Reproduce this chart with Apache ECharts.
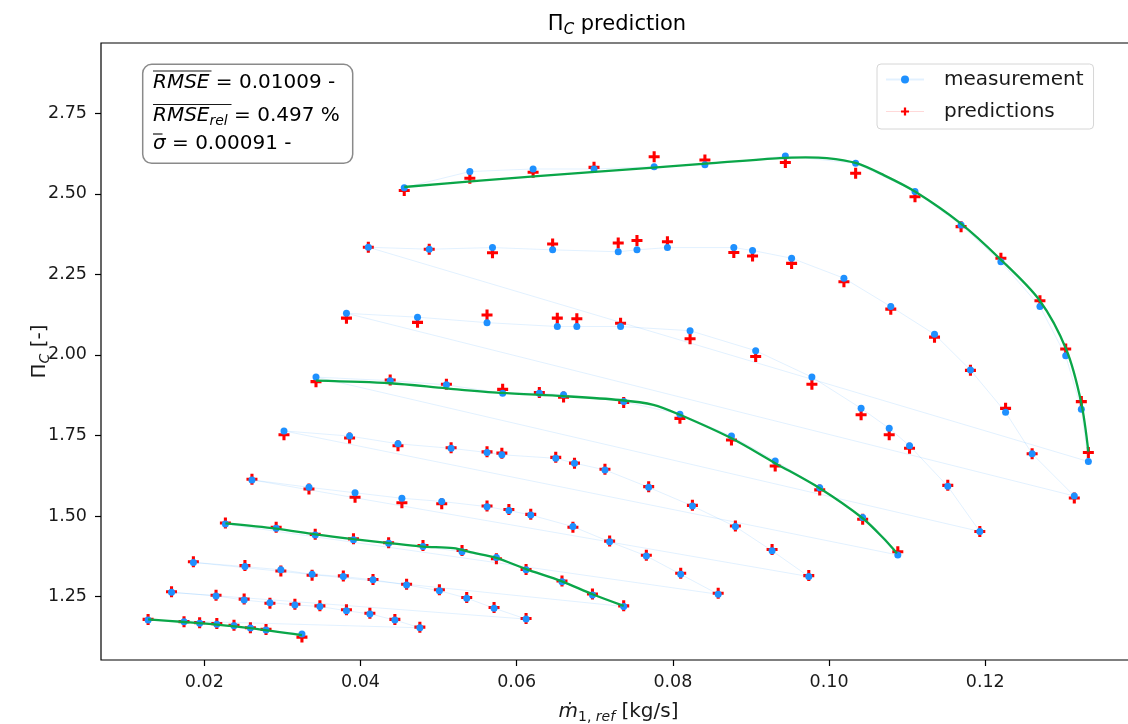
<!DOCTYPE html>
<html><head><meta charset="utf-8">
<script src="https://cdn.jsdelivr.net/npm/echarts@6/dist/echarts.min.js"></script>
<style>html,body{margin:0;padding:0;background:#fff;overflow:hidden}#c{width:1128px;height:724px}</style>
</head><body><div id="c"></div>
<script>
// ---- tick labels ----
const xTicks = [0.02, 0.04, 0.06, 0.08, 0.10, 0.12];
const yTicks = [1.25, 1.50, 1.75, 2.00, 2.25, 2.50, 2.75];

// ---- speed lines: mass flow, measurement, prediction ----
const l1x = [0.0456, 0.0540, 0.0621, 0.0699, 0.0776, 0.0841, 0.0944, 0.1034, 0.1110, 0.1169, 0.1220, 0.1270, 0.1303, 0.1323, 0.1332];
const l1m = [2.519, 2.569, 2.577, 2.577, 2.584, 2.590, 2.617, 2.595, 2.507, 2.403, 2.289, 2.150, 1.997, 1.831, 1.669];
const l1p = [2.510, 2.548, 2.567, 2.582, 2.615, 2.605, 2.597, 2.564, 2.491, 2.398, 2.300, 2.168, 2.018, 1.855, 1.697];

const l2x = [0.0410, 0.0488, 0.0569, 0.0646, 0.0730, 0.0754, 0.0793, 0.0878, 0.0902, 0.0952, 0.1019, 0.1079, 0.1135, 0.1181, 0.1226, 0.1260, 0.1314];
const l2m = [2.334, 2.328, 2.333, 2.326, 2.320, 2.326, 2.333, 2.333, 2.324, 2.300, 2.238, 2.150, 2.064, 1.953, 1.822, 1.693, 1.562];
const l2p = [2.334, 2.328, 2.317, 2.344, 2.347, 2.355, 2.351, 2.318, 2.307, 2.284, 2.227, 2.142, 2.055, 1.952, 1.834, 1.693, 1.556];

const l3x = [0.0382, 0.0473, 0.0562, 0.0652, 0.0677, 0.0733, 0.0822, 0.0906, 0.0978, 0.1041, 0.1077, 0.1103, 0.1152, 0.1193];
const l3m = [2.129, 2.117, 2.100, 2.088, 2.088, 2.088, 2.075, 2.013, 1.931, 1.834, 1.772, 1.718, 1.592, 1.452];
const l3p = [2.114, 2.101, 2.124, 2.114, 2.112, 2.098, 2.050, 1.995, 1.909, 1.814, 1.752, 1.710, 1.595, 1.452];

const l4x = [0.0343, 0.0438, 0.0510, 0.0582, 0.0629, 0.0660, 0.0737, 0.0809, 0.0875, 0.0931, 0.0988, 0.1043, 0.1088];
const l4m = [1.931, 1.920, 1.907, 1.881, 1.881, 1.876, 1.855, 1.816, 1.748, 1.671, 1.588, 1.495, 1.379];
const l4p = [1.917, 1.922, 1.909, 1.893, 1.883, 1.869, 1.852, 1.803, 1.736, 1.655, 1.581, 1.490, 1.389];

const l5x = [0.0302, 0.0386, 0.0448, 0.0516, 0.0562, 0.0581, 0.0650, 0.0674, 0.0713, 0.0769, 0.0825, 0.0880, 0.0927, 0.0974];
const l5m = [1.764, 1.748, 1.724, 1.710, 1.697, 1.690, 1.679, 1.664, 1.643, 1.589, 1.531, 1.467, 1.392, 1.312];
const l5p = [1.752, 1.742, 1.718, 1.712, 1.699, 1.695, 1.682, 1.664, 1.645, 1.591, 1.533, 1.469, 1.396, 1.315];

const l6x = [0.0261, 0.0334, 0.0393, 0.0453, 0.0504, 0.0562, 0.0590, 0.0618, 0.0672, 0.0719, 0.0766, 0.0810, 0.0858];
const l6m = [1.612, 1.589, 1.572, 1.555, 1.545, 1.529, 1.517, 1.503, 1.467, 1.420, 1.376, 1.319, 1.257];
const l6p = [1.614, 1.584, 1.558, 1.541, 1.538, 1.531, 1.520, 1.505, 1.465, 1.422, 1.378, 1.322, 1.260];

const l7x = [0.0227, 0.0292, 0.0342, 0.0391, 0.0436, 0.0480, 0.0530, 0.0574, 0.0612, 0.0658, 0.0697, 0.0737];
const l7m = [1.475, 1.462, 1.441, 1.426, 1.415, 1.405, 1.389, 1.371, 1.333, 1.296, 1.255, 1.219];
const l7p = [1.478, 1.465, 1.443, 1.429, 1.417, 1.408, 1.393, 1.367, 1.334, 1.298, 1.258, 1.221];

const l8x = [0.0186, 0.0252, 0.0298, 0.0338, 0.0378, 0.0416, 0.0459, 0.0501, 0.0536, 0.0571, 0.0612];
const l8m = [1.356, 1.343, 1.333, 1.319, 1.312, 1.302, 1.286, 1.268, 1.245, 1.214, 1.180];
const l8p = [1.358, 1.346, 1.329, 1.316, 1.314, 1.303, 1.288, 1.271, 1.247, 1.216, 1.182];

const l9x = [0.0158, 0.0215, 0.0251, 0.0284, 0.0316, 0.0348, 0.0382, 0.0412, 0.0444, 0.0476];
const l9m = [1.263, 1.252, 1.239, 1.231, 1.224, 1.219, 1.206, 1.196, 1.177, 1.153];
const l9p = [1.265, 1.254, 1.242, 1.229, 1.226, 1.221, 1.209, 1.198, 1.179, 1.155];

const l10x = [0.0128, 0.0174, 0.0194, 0.0216, 0.0238, 0.0259, 0.0279, 0.0325];
const l10m = [1.177, 1.172, 1.167, 1.164, 1.159, 1.152, 1.146, 1.134];
const l10p = [1.179, 1.172, 1.169, 1.166, 1.161, 1.153, 1.148, 1.124];

// ---- green model curves ----
const g1x = [0.0456, 0.0553, 0.0700, 0.0850, 0.0937, 0.0970, 0.0997, 0.1035, 0.1070, 0.1110, 0.1168, 0.1218, 0.1269, 0.1304, 0.1323, 0.1332];
const g1y = [2.521, 2.541, 2.568, 2.595, 2.611, 2.613, 2.611, 2.595, 2.558, 2.507, 2.409, 2.300, 2.171, 2.015, 1.850, 1.700];
const g4x = [0.0343, 0.0438, 0.0510, 0.0579, 0.0660, 0.0732, 0.0775, 0.0809, 0.0875, 0.0931, 0.0988, 0.1043, 0.1070, 0.1087];
const g4y = [1.920, 1.912, 1.896, 1.882, 1.872, 1.860, 1.845, 1.814, 1.741, 1.664, 1.586, 1.493, 1.430, 1.384];
const g7x = [0.0227, 0.0292, 0.0342, 0.0391, 0.0436, 0.0480, 0.0519, 0.0544, 0.0574, 0.0612, 0.0658, 0.0697, 0.0737];
const g7y = [1.477, 1.461, 1.443, 1.428, 1.416, 1.405, 1.400, 1.386, 1.370, 1.335, 1.297, 1.257, 1.221];
const g10x = [0.0128, 0.0174, 0.0216, 0.0259, 0.0325];
const g10y = [1.179, 1.171, 1.163, 1.152, 1.130];

// ---- statistics text ----
const statRmse = '0.01009 -';
const statRmseRel = '0.497 %';
const statSigma = '0.00091 -';

const FONT = 'DejaVu Sans';
const TXT = '#1a1a1a';
function pairs(xs, ys) { return xs.map((x, i) => [x, ys[i]]); }
const speedLines = [[l1x,l1m,l1p],[l2x,l2m,l2p],[l3x,l3m,l3p],[l4x,l4m,l4p],[l5x,l5m,l5p],
                    [l6x,l6m,l6p],[l7x,l7m,l7p],[l8x,l8m,l8p],[l9x,l9m,l9p],[l10x,l10m,l10p]];
const measData = [].concat(...speedLines.map(l => pairs(l[0], l[1])));
const predData = [].concat(...speedLines.map(l => pairs(l[0], l[2])));
const greens = [[g1x,g1y],[g4x,g4y],[g7x,g7y],[g10x,g10y]];

const plusPath = 'path://M3.6,0H6.4V3.6H10V6.4H6.4V10H3.6V6.4H0V3.6H3.6Z';

const chart = echarts.init(document.getElementById('c'), null, {renderer: 'canvas'});

const subRich = (size) => ({
  a: {fontFamily: FONT, fontSize: size, color: TXT, lineHeight: size + 4},
  s: {fontFamily: FONT, fontSize: Math.round(size * 0.7), fontStyle: 'italic', color: TXT,
      lineHeight: Math.round(size * 0.7), padding: [Math.round(size * 0.5), 0, 0, 0]},
  si: {fontFamily: FONT, fontSize: Math.round(size * 0.7), fontStyle: 'italic', color: TXT,
      lineHeight: Math.round(size * 0.7), padding: [Math.round(size * 0.5), 0, 0, 0]},
  su: {fontFamily: FONT, fontSize: Math.round(size * 0.7), color: TXT,
      lineHeight: Math.round(size * 0.7), padding: [Math.round(size * 0.5), 0, 0, 0]},
  i: {fontFamily: FONT, fontSize: size, fontStyle: 'italic', color: TXT, lineHeight: size + 4}
});

const series = [
  {
    name: 'predictions', type: 'line', data: predData, z: 2,
    symbol: plusPath, symbolSize: 11, symbolKeepAspect: true,
    itemStyle: {color: '#ff0000'},
    lineStyle: {color: 'rgba(255,0,0,0.15)', width: 1, opacity: 0},
    emphasis: {disabled: true}, silent: true
  },
  {
    name: 'measurement', type: 'line', data: measData, z: 3,
    symbol: 'circle', symbolSize: 7,
    itemStyle: {color: '#1e90ff'},
    lineStyle: {color: 'rgba(30,144,255,0.13)', width: 1},
    emphasis: {disabled: true}, silent: true
  }
];
greens.forEach((g, k) => series.push({
  name: 'fit' + k, type: 'line', data: pairs(g[0], g[1]), z: 4,
  showSymbol: false, symbol: 'none', smooth: 0.3,
  lineStyle: {color: '#0aa648', width: 2.3},
  emphasis: {disabled: true}, silent: true
}));

const option = {
  animation: false,
  backgroundColor: '#ffffff',
  grid: {left: 101, top: 43, width: 1035, height: 617, show: true, borderColor: '#000', borderWidth: 1.2,
         containLabel: false, outerBoundsMode: 'none'},
  xAxis: {
    type: 'value', min: 0.00677, max: 0.1393,
    axisLine: {show: false},
    splitLine: {show: false},
    axisTick: {show: true, length: 6, lineStyle: {color: '#000', width: 1.2}, customValues: xTicks},
    axisLabel: {customValues: xTicks, formatter: v => v.toFixed(2), fontFamily: FONT, fontSize: 17.5, color: TXT, margin: 13},
    name: '{i|ṁ}{su|1, }{si|ref}{a| [kg/s]}',
    nameLocation: 'middle', nameGap: 40, nameMoveOverlap: false,
    nameTextStyle: {rich: subRich(20)}
  },
  yAxis: {
    type: 'value', min: 1.053, max: 2.968,
    axisLine: {show: false},
    splitLine: {show: false},
    axisTick: {show: true, length: 6, lineStyle: {color: '#000', width: 1.2}, customValues: yTicks},
    axisLabel: {customValues: yTicks, formatter: v => v.toFixed(2), fontFamily: FONT, fontSize: 17.5, color: TXT, margin: 14},
    name: '{a|Π}{s|C}{a| [-]}',
    nameLocation: 'middle', nameGap: 49, nameMoveOverlap: false,
    nameTextStyle: {rich: subRich(20)}
  },
  legend: {
    orient: 'vertical', left: 877, top: 64,
    data: [
      {name: 'measurement'},
      {name: 'predictions', lineStyle: {color: 'rgba(255,0,0,0.15)', opacity: 1, width: 1}}
    ],
    itemWidth: 38, itemHeight: 10, itemGap: 11,
    padding: [5, 10, 7, 8],
    borderColor: '#d6d6d6', borderWidth: 1, borderRadius: 4,
    backgroundColor: 'rgba(255,255,255,0.85)',
    textStyle: {fontFamily: FONT, fontSize: 20, color: TXT, padding: [0, 0, 0, 15], lineHeight: 21},
    selectedMode: false
  },
  graphic: [
    {type: 'text', x: 617, y: 25, z: 10, style: {
      text: '{a|Π}{s|C}{a| prediction}', align: 'center', verticalAlign: 'middle',
      rich: subRich(21)}},
    {type: 'rect', shape: {x: 142.7, y: 64.3, width: 210, height: 99, r: 9}, z: 10,
      style: {fill: 'rgba(255,255,255,0.9)', stroke: '#8a8a8a', lineWidth: 1.5}},
    {type: 'text', x: 153, y: 83, z: 11, style: {
      text: '{i|RMSE}{a| = ' + statRmse + '}', align: 'left', verticalAlign: 'middle', rich: subRich(20)}},
    {type: 'text', x: 153, y: 116, z: 11, style: {
      text: '{i|RMSE}{s|rel}{a| = ' + statRmseRel + '}', align: 'left', verticalAlign: 'middle', rich: subRich(20)}},
    {type: 'text', x: 153, y: 144, z: 11, style: {
      text: '{i|σ}{a| = ' + statSigma + '}', align: 'left', verticalAlign: 'middle', rich: subRich(20)}},
    {type: 'line', z: 11, shape: {x1: 153, y1: 71, x2: 211.5, y2: 71}, style: {stroke: TXT, lineWidth: 1.2}},
    {type: 'line', z: 11, shape: {x1: 153, y1: 104.5, x2: 231.5, y2: 104.5}, style: {stroke: TXT, lineWidth: 1.2}},
    {type: 'line', z: 11, shape: {x1: 153, y1: 134, x2: 162.5, y2: 134}, style: {stroke: TXT, lineWidth: 1.2}}
  ],
  series: series
};
chart.setOption(option);
</script></body></html>
